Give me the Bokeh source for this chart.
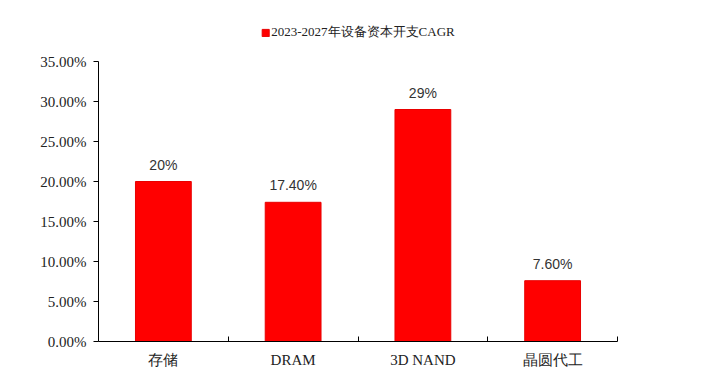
from bokeh.plotting import figure
from bokeh.models import (ColumnDataSource, FixedTicker, NumeralTickFormatter,
                          Legend, LegendItem, Range1d, LabelSet)
from bokeh.core.properties import value
from bokeh.embed import file_html
from bokeh.resources import INLINE

categories = ["存储", "DRAM", "3D NAND", "晶圆代工"]
cagr = [0.20, 0.174, 0.29, 0.076]
value_labels = ["20%", "17.40%", "29%", "7.60%"]
y_ticks = [0.0, 0.05, 0.10, 0.15, 0.20, 0.25, 0.30, 0.35]
series_name = "2023-2027年设备资本开支CAGR"

xs = [i + 0.5 for i in range(len(categories))]
src = ColumnDataSource(dict(x=xs, top=cagr, cat=categories, lab=value_labels))

SERIF = "Liberation Serif"
SANS = "Liberation Sans"

# frame extends above the 35% tick so the legend can sit above the axis top
p = figure(width=700, height=384, output_backend="svg", toolbar_location=None,
           x_range=Range1d(0, len(categories)), y_range=Range1d(0, 0.40),
           min_border_left=98, min_border_right=83, min_border_top=21,
           min_border_bottom=43)
p.outline_line_color = None
p.xgrid.visible = False
p.ygrid.visible = False

r = p.vbar(x="x", top="top", width=0.43, source=src, fill_color="#FF0000",
           line_color="#E80000", line_width=1)

labels = LabelSet(x="x", y="top", text="lab", source=src, text_align="center",
                  text_baseline="bottom", y_offset=9, text_font=value(SANS),
                  text_font_size="14px", text_color="#333333")
p.add_layout(labels)

# y axis
p.yaxis.bounds = (y_ticks[0], y_ticks[-1])
p.yaxis.ticker = FixedTicker(ticks=y_ticks)
p.yaxis.formatter = NumeralTickFormatter(format="0.00%")
p.yaxis.axis_line_color = "black"
p.yaxis.major_tick_line_color = "black"
p.yaxis.major_tick_out = 5
p.yaxis.major_tick_in = 0
p.yaxis.minor_tick_line_color = None
p.yaxis.major_label_text_font = SERIF
p.yaxis.major_label_text_font_size = "15px"
p.yaxis.major_label_text_color = "#222222"
p.yaxis.major_label_standoff = 7

# x axis
p.xaxis.ticker = FixedTicker(ticks=xs, minor_ticks=list(range(1, len(categories) + 1)))
p.xaxis.major_label_overrides = {x: c for x, c in zip(xs, categories)}
p.xaxis.major_tick_line_color = None
p.xaxis.minor_tick_line_color = "black"
p.xaxis.minor_tick_in = 5
p.xaxis.minor_tick_out = 0
p.xaxis.axis_line_color = "black"
p.xaxis.major_label_text_font = SERIF
p.xaxis.major_label_text_font_size = "15px"
p.xaxis.major_label_text_color = "#222222"
p.xaxis.major_label_standoff = 4

legend = Legend(items=[LegendItem(label=series_name, renderers=[r])],
                location="top_center",
                label_text_font=SERIF, label_text_font_size="13px",
                label_text_color="#222222", glyph_width=9, glyph_height=9,
                label_height=15, label_standoff=2, padding=0, margin=2,
                border_line_color=None, background_fill_alpha=0)
p.add_layout(legend)

open("out.html", "w").write(file_html(p, INLINE))
